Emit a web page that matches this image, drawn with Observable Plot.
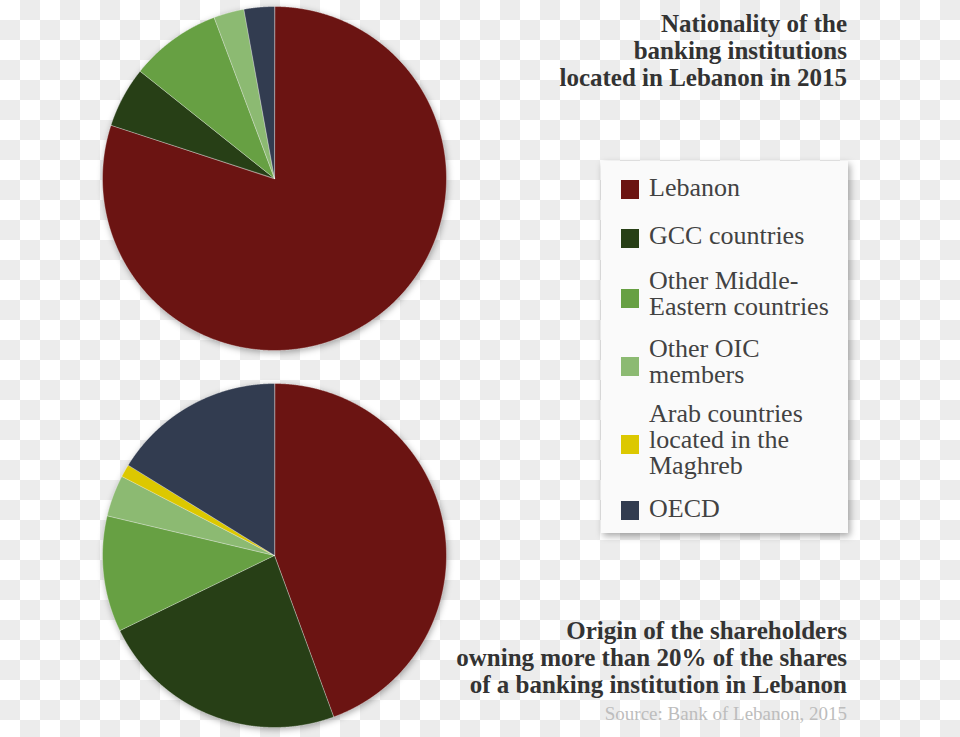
<!DOCTYPE html>
<html>
<head>
<meta charset="utf-8">
<script src="https://cdn.jsdelivr.net/npm/d3@7"></script>
<script src="https://cdn.jsdelivr.net/npm/@observablehq/plot@0.6"></script>
<style>
  html, body { margin: 0; padding: 0; }
  body {
    width: 960px; height: 737px; position: relative; overflow: hidden;
    background: repeating-conic-gradient(#ececec 0 25%, #ffffff 0 50%) 0 0 / 40px 40px;
  }
  .txt { font-family: "Liberation Serif", "DejaVu Serif", serif; }
  .pie { position: absolute; left: 94px; }
  .pie svg { overflow: visible; background: transparent; }
  .pie g[aria-label="line"] { filter: drop-shadow(1px 2px 3px rgba(0,0,0,0.32)); }
  .title {
    position: absolute; right: 113px; text-align: right;
    font-weight: bold; font-size: 25px; line-height: 27px; color: #333;
    white-space: pre;
  }
  .source {
    position: absolute; right: 113px; top: 704px; text-align: right;
    font-size: 19px; line-height: 19px; color: #bdbdbd; white-space: pre;
  }
  .legend {
    position: absolute; left: 601px; top: 161px; width: 247px; height: 372px;
    background: #fafafa; box-shadow: 2px 3px 7px rgba(0,0,0,0.35);
  }
  .entry { position: absolute; left: 20px; display: flex; align-items: center; }
  .swatch { width: 18px; height: 19px; flex: none; margin-right: 10px; position: relative; }
  .label { font-size: 26px; line-height: 26px; color: #424242; white-space: pre; }
</style>
</head>
<body>
<script>
// ---- data ----
const categories = [
  "Lebanon",
  "GCC countries",
  "Other Middle-Eastern countries",
  "Other OIC members",
  "Arab countries located in the Maghreb",
  "OECD"
];
const legendLabels = [
  "Lebanon",
  "GCC countries",
  "Other Middle-\nEastern countries",
  "Other OIC\nmembers",
  "Arab countries\nlocated in the\nMaghreb",
  "OECD"
];
const colors = ["#6b1412", "#273f16", "#67a043", "#8cba72", "#dcc800", "#323c50"];
// Nationality of banking institutions (number of banks)
const nationalityValues = [56, 4, 6, 2, 0, 2];
// Origin of shareholders owning > 20% (percent)
const shareholderValues = [44.4, 23.4, 10.9, 3.9, 1.2, 16.2];

const title1 = "Nationality of the\nbanking institutions\nlocated in Lebanon in 2015";
const title2 = "Origin of the shareholders\nowning more than 20% of the shares\nof a banking institution in Lebanon";
const sourceText = "Source: Bank of Lebanon, 2015";

// ---- layout (not data) ----
const legendTops = [14, 62, 106.5, 174.5, 240, 335];
const swatchShift = [1.5, 2.5, 4.5, 5, 4.5, 1];

function piePlot(values) {
  const arcs = d3.pie().sort(null).value(d => d)(values);
  const pts = [];
  arcs.forEach((a, i) => {
    const span = a.endAngle - a.startAngle;
    if (span <= 0) return;
    const cat = categories[i];
    pts.push({cat, x: 0, y: 0});
    const n = Math.max(2, Math.ceil(span / 0.004));
    for (let k = 0; k <= n; k++) {
      const t = a.startAngle + span * k / n;
      pts.push({cat, x: Math.sin(t), y: Math.cos(t)});
    }
  });
  return Plot.plot({
    width: 360, height: 360, margin: 8,
    style: {background: "transparent", overflow: "visible"},
    x: {domain: [-1, 1], axis: null},
    y: {domain: [-1, 1], axis: null},
    color: {domain: categories, range: colors},
    marks: [
      Plot.line(pts, {
        x: "x", y: "y", z: "cat", fill: "cat",
        stroke: "rgba(255,255,255,0.45)", strokeWidth: 0.8,
        curve: "linear-closed"
      })
    ]
  });
}

function addPie(values, top) {
  const div = document.createElement("div");
  div.className = "pie";
  div.style.top = top + "px";
  div.appendChild(piePlot(values));
  document.body.appendChild(div);
}
addPie(nationalityValues, -2);
addPie(shareholderValues, 375);

function addTitle(text, top) {
  const d = document.createElement("div");
  d.className = "title txt";
  d.style.top = top + "px";
  d.textContent = text;
  document.body.appendChild(d);
}
addTitle(title1, 10);
addTitle(title2, 616.5);

const src = document.createElement("div");
src.className = "source txt";
src.textContent = sourceText;
document.body.appendChild(src);

const legend = document.createElement("div");
legend.className = "legend";
categories.forEach((c, i) => {
  const e = document.createElement("div");
  e.className = "entry";
  e.style.top = legendTops[i] + "px";
  const sw = document.createElement("div");
  sw.className = "swatch";
  sw.style.background = colors[i];
  sw.style.top = swatchShift[i] + "px";
  const lb = document.createElement("div");
  lb.className = "label txt";
  lb.textContent = legendLabels[i];
  e.appendChild(sw); e.appendChild(lb);
  legend.appendChild(e);
});
document.body.appendChild(legend);
</script>
</body>
</html>
